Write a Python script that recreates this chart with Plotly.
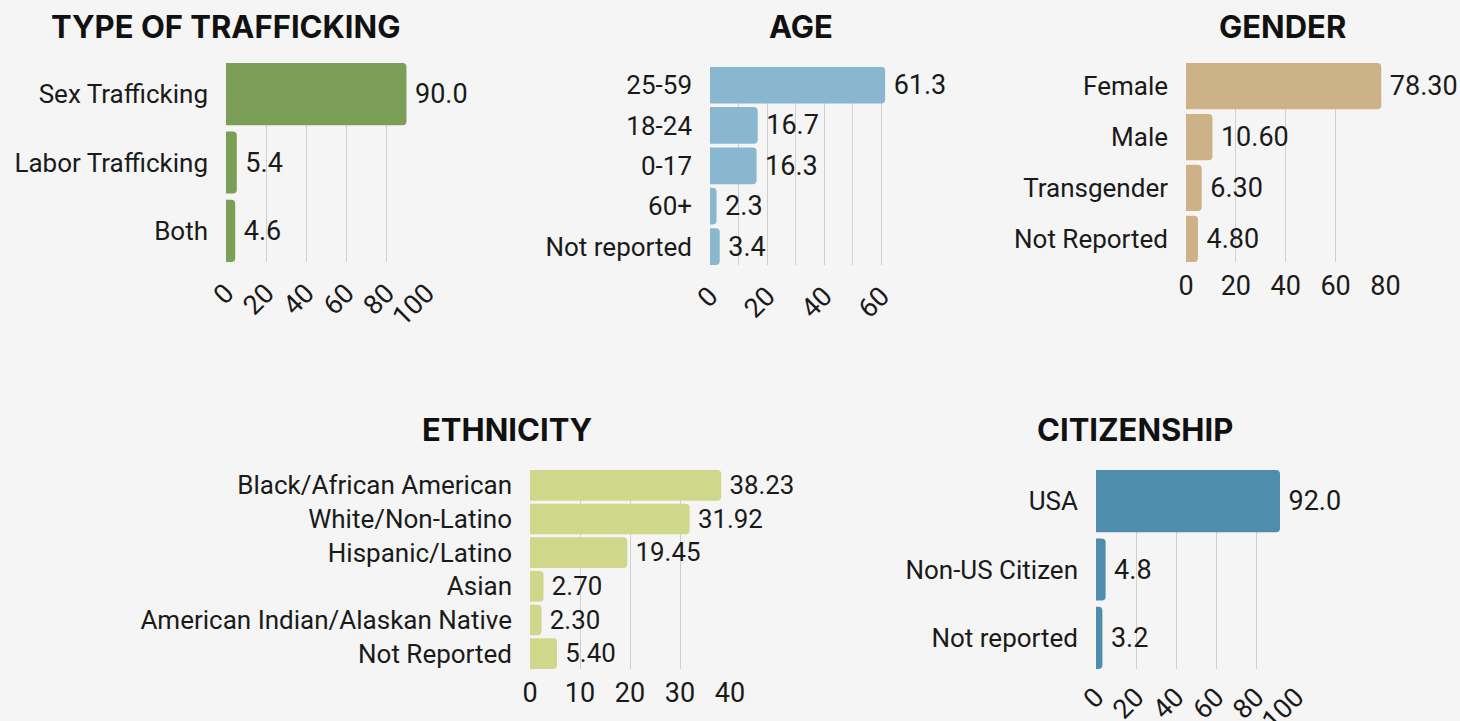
import plotly.graph_objects as go

W, H = 1460, 721
FONT = "Roboto"
TS = "\u2009"  # thin space for label padding

# ---- data ----
traffic_cats = ["Sex Trafficking", "Labor Trafficking", "Both"]
traffic_vals = [90.0, 5.4, 4.6]

age_cats = ["25-59", "18-24", "0-17", "60+", "Not reported"]
age_vals = [61.3, 16.7, 16.3, 2.3, 3.4]

gender_cats = ["Female", "Male", "Transgender", "Not Reported"]
gender_vals = [78.30, 10.60, 6.30, 4.80]

eth_cats = ["Black/African American", "White/Non-Latino", "Hispanic/Latino", "Asian",
            "American Indian/Alaskan Native", "Not Reported"]
eth_vals = [38.23, 31.92, 19.45, 2.70, 2.30, 5.40]

cit_cats = ["USA", "Non-US Citizen", "Not reported"]
cit_vals = [92.0, 4.8, 3.2]

titles = ["TYPE OF TRAFFICKING", "AGE", "GENDER", "ETHNICITY", "CITIZENSHIP"]

# ---- panel styling ----
panels = [
    dict(c=traffic_cats, v=traffic_vals, col="#7c9f58", fmt=".1f", x=(226, 426.5), y=(63, 262),
         xr=[0, 100], dt=20, minor=None, ang=-45, so=9, tx=225, ty=27),
    dict(c=age_cats, v=age_vals, col="#89b7cf", fmt=".1f", x=(710, 910), y=(66.7, 265),
         xr=[0, 70], dt=20, minor=10, ang=-45, so=9, tx=801, ty=27),
    dict(c=gender_cats, v=gender_vals, col="#cdb287", fmt=".2f", x=(1186, 1385.5), y=(63, 262),
         xr=[0, 80], dt=20, minor=None, ang=0, so=5, tx=1282, ty=27),
    dict(c=eth_cats, v=eth_vals, col="#cfd78b", fmt=".2f", x=(530, 730), y=(470, 669),
         xr=[0, 40], dt=10, minor=None, ang=0, so=5, tx=507, ty=430),
    dict(c=cit_cats, v=cit_vals, col="#4e8dab", fmt=".1f", x=(1096, 1296), y=(470, 669),
         xr=[0, 100], dt=20, minor=None, ang=-45, so=6, tx=1135, ty=430),
]

BARW = 0.91
fig = go.Figure()
layout = {}
annotations = []
for i, p in enumerate(panels, start=1):
    sfx = "" if i == 1 else str(i)
    n = len(p["c"])
    fig.add_trace(go.Bar(
        x=p["v"], y=p["c"], orientation="h",
        marker=dict(color=p["col"], line=dict(width=0)),
        width=[BARW] * n,
        texttemplate=TS + "%{x:" + p["fmt"] + "}",
        textposition="outside", cliponaxis=False,
        textfont=dict(family=FONT, size=27, color="#1a1a1a"),
        xaxis="x" + sfx, yaxis="y" + sfx, showlegend=False, hoverinfo="skip",
    ))
    xd = [p["x"][0] / W, p["x"][1] / W]
    yd = [1 - p["y"][1] / H, 1 - p["y"][0] / H]
    xa = dict(domain=xd, anchor="y" + sfx, range=p["xr"], dtick=p["dt"], tick0=0,
              showgrid=True, gridcolor="#cfcfcf", gridwidth=1, zeroline=False,
              showline=False, ticks="", tickangle=p["ang"], automargin=False,
              tickfont=dict(family=FONT, size=27, color="#1a1a1a"),
              ticklabelstandoff=p["so"], fixedrange=True)
    if p["minor"]:
        xa["minor"] = dict(dtick=p["minor"], showgrid=True, gridcolor="#cfcfcf", gridwidth=1, ticks="")
    ya = dict(domain=yd, anchor="x" + sfx, type="category",
              categoryorder="array", categoryarray=p["c"],
              range=[n - 1 + BARW / 2, -BARW / 2], automargin=False,
              showgrid=False, zeroline=False, showline=False, ticks="",
              tickfont=dict(family=FONT, size=26, color="#1a1a1a"),
              ticklabelstandoff=17, fixedrange=True)
    layout["xaxis" + sfx] = xa
    layout["yaxis" + sfx] = ya
    annotations.append(dict(text="<b>" + titles[i - 1] + "</b>", x=p["tx"] / W, y=1 - p["ty"] / H,
                            xref="paper", yref="paper", showarrow=False,
                            xanchor="center", yanchor="middle",
                            font=dict(family="Inter", size=31, color="#111111")))

fig.update_layout(**layout)
fig.update_layout(
    width=W, height=H, autosize=False,
    margin=dict(l=0, r=0, t=0, b=0, pad=0, autoexpand=False),
    paper_bgcolor="#f5f5f5", plot_bgcolor="#f5f5f5",
    barcornerradius=4,
    annotations=annotations,
    showlegend=False,
)
fig.write_html("out.html", config={"displayModeBar": False},
               post_script="document.body.style.margin='0';document.body.style.padding='0';"
                           "document.body.style.background='#f5f5f5';")
